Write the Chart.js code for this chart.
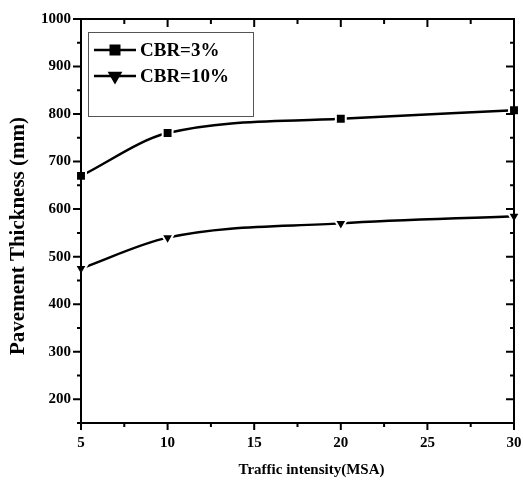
<!DOCTYPE html>
<html>
<head>
<meta charset="utf-8">
<script src="https://cdn.jsdelivr.net/npm/chart.js"></script>
<style>
  html, body { margin: 0; padding: 0; background: #fff; }
  #wrap { width: 523px; height: 484px; }
</style>
</head>
<body>
<div id="wrap"><canvas id="thicknessChart"></canvas></div>
<script>
// values
const traffic = [5, 10, 20, 30];
const cbr3 = [670, 760, 790, 808];
const cbr10 = [475, 540, 570, 585];
const xTicks = [5, 10, 15, 20, 25, 30];
const yTicks = [200, 300, 400, 500, 600, 700, 800, 900, 1000];

const xTitle = 'Traffic intensity(MSA)';
const yTitle = 'Pavement Thickness (mm)';

const serif = 'Liberation Serif';

function toPoints(ys) {
    return traffic.map((x, i) => ({ x: x, y: ys[i] }));
}

// frame with outward/inward major + minor ticks, like the Origin plot
const frameTicks = {
    id: 'frameTicks',
    afterDraw(chart) {
        const ctx = chart.ctx;
        const a = chart.chartArea;
        const xs = chart.scales.x, ys = chart.scales.y;
        ctx.save();
        ctx.strokeStyle = '#000';
        ctx.lineWidth = 2;
        ctx.strokeRect(a.left, a.top, a.right - a.left, a.bottom - a.top);
        ctx.beginPath();
        for (let v = 5; v <= 30; v += 2.5) {
            const px = xs.getPixelForValue(v);
            const len = (v % 5 === 0) ? 7 : 4;
            ctx.moveTo(px, a.bottom); ctx.lineTo(px, a.bottom + len);
            ctx.moveTo(px, a.top); ctx.lineTo(px, a.top + len + 1);
        }
        for (let v = 150; v <= 1000; v += 50) {
            const py = ys.getPixelForValue(v);
            const len = (v % 100 === 0) ? 8 : 4;
            ctx.moveTo(a.left, py); ctx.lineTo(a.left - len, py);
            ctx.moveTo(a.right, py); ctx.lineTo(a.right - len, py);
        }
        ctx.stroke();

        // axis titles (the originals sit a bit off-centre)
        ctx.fillStyle = '#000';
        ctx.textAlign = 'center';
        ctx.textBaseline = 'middle';
        ctx.font = 'bold 15px ' + serif;
        ctx.fillText(xTitle, (a.left + a.right) / 2 + 14, a.bottom + 47);
        ctx.translate(19, (a.top + a.bottom) / 2 + 15);
        ctx.rotate(-Math.PI / 2);
        ctx.font = 'bold 21px ' + serif;
        ctx.fillText(yTitle, 0, 0);
        ctx.restore();
    }
};

// legend box inside the plot, top-left
const boxLegend = {
    id: 'boxLegend',
    afterDraw(chart) {
        const ctx = chart.ctx;
        const a = chart.chartArea;
        const bx = a.left + 7, by = a.top + 13, bw = 165, bh = 84;
        ctx.save();
        ctx.strokeStyle = '#555';
        ctx.lineWidth = 1;
        ctx.strokeRect(bx + 0.5, by + 0.5, bw, bh);
        chart.data.datasets.forEach((ds, i) => {
            const y = by + 18 + i * 26;
            ctx.strokeStyle = '#000';
            ctx.lineWidth = 2.5;
            ctx.beginPath();
            ctx.moveTo(bx + 6, y); ctx.lineTo(bx + 48, y);
            ctx.stroke();
            Chart.helpers.drawPoint(ctx, {
                pointStyle: ds.pointStyle,
                radius: 6,
                rotation: ds.pointRotation || 0,
                borderWidth: 2
            }, bx + 27, y);
            ctx.fillStyle = '#000';
            ctx.font = 'bold 19px ' + serif;
            ctx.textBaseline = 'middle';
            ctx.fillText(ds.label, bx + 52, y + 1);
        });
        ctx.restore();
    }
};

// draw markers with white rim so the line looks broken around them
function markerDefaults(style, rot) {
    return {
        pointStyle: style,
        pointRotation: rot,
        pointRadius: 7,
        pointHoverRadius: 7,
        pointBackgroundColor: '#000',
        pointBorderColor: '#fff',
        pointBorderWidth: 2
    };
}

const ctx = document.getElementById('thicknessChart').getContext('2d');
const thicknessChart = new Chart(ctx, {
    type: 'line',
    data: {
        datasets: [
            Object.assign({
                label: 'CBR=3%',
                data: toPoints(cbr3),
                borderColor: '#000',
                borderWidth: 2.5,
                cubicInterpolationMode: 'monotone',
                fill: false
            }, markerDefaults('rect', 0)),
            Object.assign({
                label: 'CBR=10%',
                data: toPoints(cbr10),
                borderColor: '#000',
                borderWidth: 2.5,
                cubicInterpolationMode: 'monotone',
                fill: false
            }, markerDefaults('triangle', 180))
        ]
    },
    options: {
        responsive: true,
        maintainAspectRatio: false,
        animation: false,
        clip: false,
        layout: { padding: { left: 31, right: 9, top: 19, bottom: 21 } },
        plugins: {
            legend: { display: false },
            tooltip: { enabled: false }
        },
        scales: {
            x: {
                type: 'linear',
                min: 5,
                max: 30,
                afterBuildTicks: s => { s.ticks = xTicks.map(v => ({ value: v })); },
                afterFit: s => { s.paddingLeft = 0; s.paddingRight = 0; },
                grid: { display: false, drawTicks: false },
                border: { display: false },
                ticks: {
                    color: '#000',
                    padding: 11,
                    maxRotation: 0,
                    callback: v => String(v),
                    font: { family: serif, weight: 'bold', size: 15 }
                }
            },
            y: {
                min: 150,
                max: 1000,
                afterBuildTicks: s => { s.ticks = yTicks.map(v => ({ value: v })); },
                grid: { display: false, drawTicks: false },
                border: { display: false },
                ticks: {
                    color: '#000',
                    padding: 10,
                    callback: v => String(v),
                    font: { family: serif, weight: 'bold', size: 15 }
                }
            }
        }
    },
    plugins: [frameTicks, boxLegend]
});
</script>
</body>
</html>
